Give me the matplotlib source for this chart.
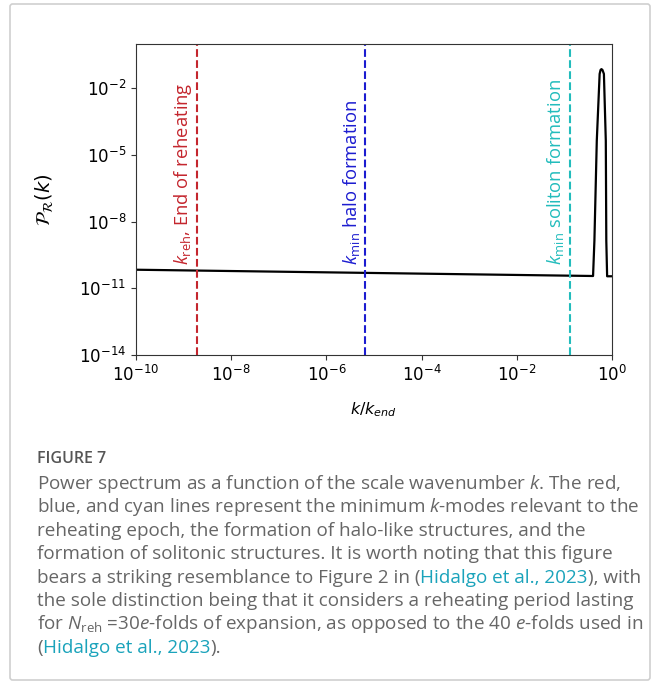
import numpy as np
import matplotlib
matplotlib.use("Agg")
import matplotlib.pyplot as plt
from matplotlib.patches import FancyBboxPatch

plt.rcParams['mathtext.rm'] = 'Open Sans'
plt.rcParams['mathtext.it'] = 'Open Sans:italic'

# spectrum
k_vals = [1e-10, 0.40, 0.427, 0.479, 0.55, 0.575, 0.60, 0.63, 0.676, 0.741, 0.759, 0.79, 1.0]
P_vals = [6.9e-11, 3.6e-11, 1.4e-9, 4.4e-5, 4.5e-2, 6.8e-2, 7.4e-2, 6.8e-2, 4.5e-2, 4.4e-5, 1.4e-9, 3.5e-11, 3.5e-11]

# minimum k-modes
k_lines = [1.9e-9, 6.5e-6, 0.128]
line_cols = ['#c4262e', '#1c1cd0', '#22bcbc']
line_labels = [r'$k_{\mathrm{reh}}$, End of reheating', r'$k_{\mathrm{min}}$ halo formation',
               r'$k_{\mathrm{min}}$ soliton formation']

xticks = [1e-10, 1e-8, 1e-6, 1e-4, 1e-2, 1e0]
yticks = [1e-14, 1e-11, 1e-8, 1e-5, 1e-2]

W, H = 657, 684
fig = plt.figure(figsize=(W/100, H/100), dpi=100)

# border around figure + caption
fig.patches.append(FancyBboxPatch((10/W, 4/H), 640/W, 676/H, boxstyle="round,pad=0,rounding_size=0.004",
                                  transform=fig.transFigure, fc='none', ec='#cfcfcf', lw=1.2))

ax = fig.add_axes([136/W, 1-355/H, 476/W, 311/H])
ax.plot(k_vals, P_vals, color='k', lw=1.6)
for kl, c, lab in zip(k_lines, line_cols, line_labels):
    ax.axvline(kl, color=c, ls='--', lw=1.5)
    ax.annotate(lab, xy=(kl, 0.29), xycoords=('data', 'axes fraction'), xytext=(-10, 0),
                textcoords='offset points', rotation=90, ha='center', va='bottom',
                color=c, fontsize=13.2, family='Open Sans', math_fontfamily='custom')
ax.set_xscale('log')
ax.set_yscale('log')
ax.set_xlim(1e-10, 1e0)
ax.set_ylim(1e-14, 1e0)
ax.set_xticks(xticks)
ax.set_yticks(yticks)
ax.minorticks_off()
ax.tick_params(labelsize=12, length=3.5, color='#333333')
for s in ax.spines.values():
    s.set_color('#333333')
ax.set_xlabel(r'$k/k_{end}$', fontsize=11.5)
ax.set_ylabel(r'$\mathcal{P}_\mathcal{R}(k)$', fontsize=14)
ax.xaxis.set_label_coords(0.5, -0.145)
ax.yaxis.set_label_coords(-0.17, 0.5)

# caption
gray = '#666666'
teal = '#1aa3bb'
cap_lines = [
    [(r'Power spectrum as a function of the scale wavenumber $k$. The red,', gray)],
    [(r'blue, and cyan lines represent the minimum $k$-modes relevant to the', gray)],
    [('reheating epoch, the formation of halo-like structures, and the', gray)],
    [('formation of solitonic structures. It is worth noting that this figure', gray)],
    [('bears a striking resemblance to Figure 2 in (', gray), ('Hidalgo et al., 2023', teal), ('), with', gray)],
    [('the sole distinction being that it considers a reheating period lasting', gray)],
    [(r'for $N_{\mathrm{reh}}$ =30$e$-folds of expansion, as opposed to the 40 $e$-folds used in', gray)],
    [('(', gray), ('Hidalgo et al., 2023', teal), (').', gray)],
]

fig.text(37/W, 1-459/H, 'FIGURE 7', fontsize=11.5, family='Open Sans', weight='semibold',
         color='#555555', va='center')
renderer = fig.canvas.get_renderer()
y0 = 483
for i, pieces in enumerate(cap_lines):
    x = 37
    yy = y0 + i*23.4
    for txt, col in pieces:
        t = fig.text(x/W, 1-(yy+6)/H, txt, fontsize=13.6, family='Open Sans', color=col,
                     va='baseline', math_fontfamily='custom')
        x += t.get_window_extent(renderer).width

fig.savefig('out.png', dpi=100)
